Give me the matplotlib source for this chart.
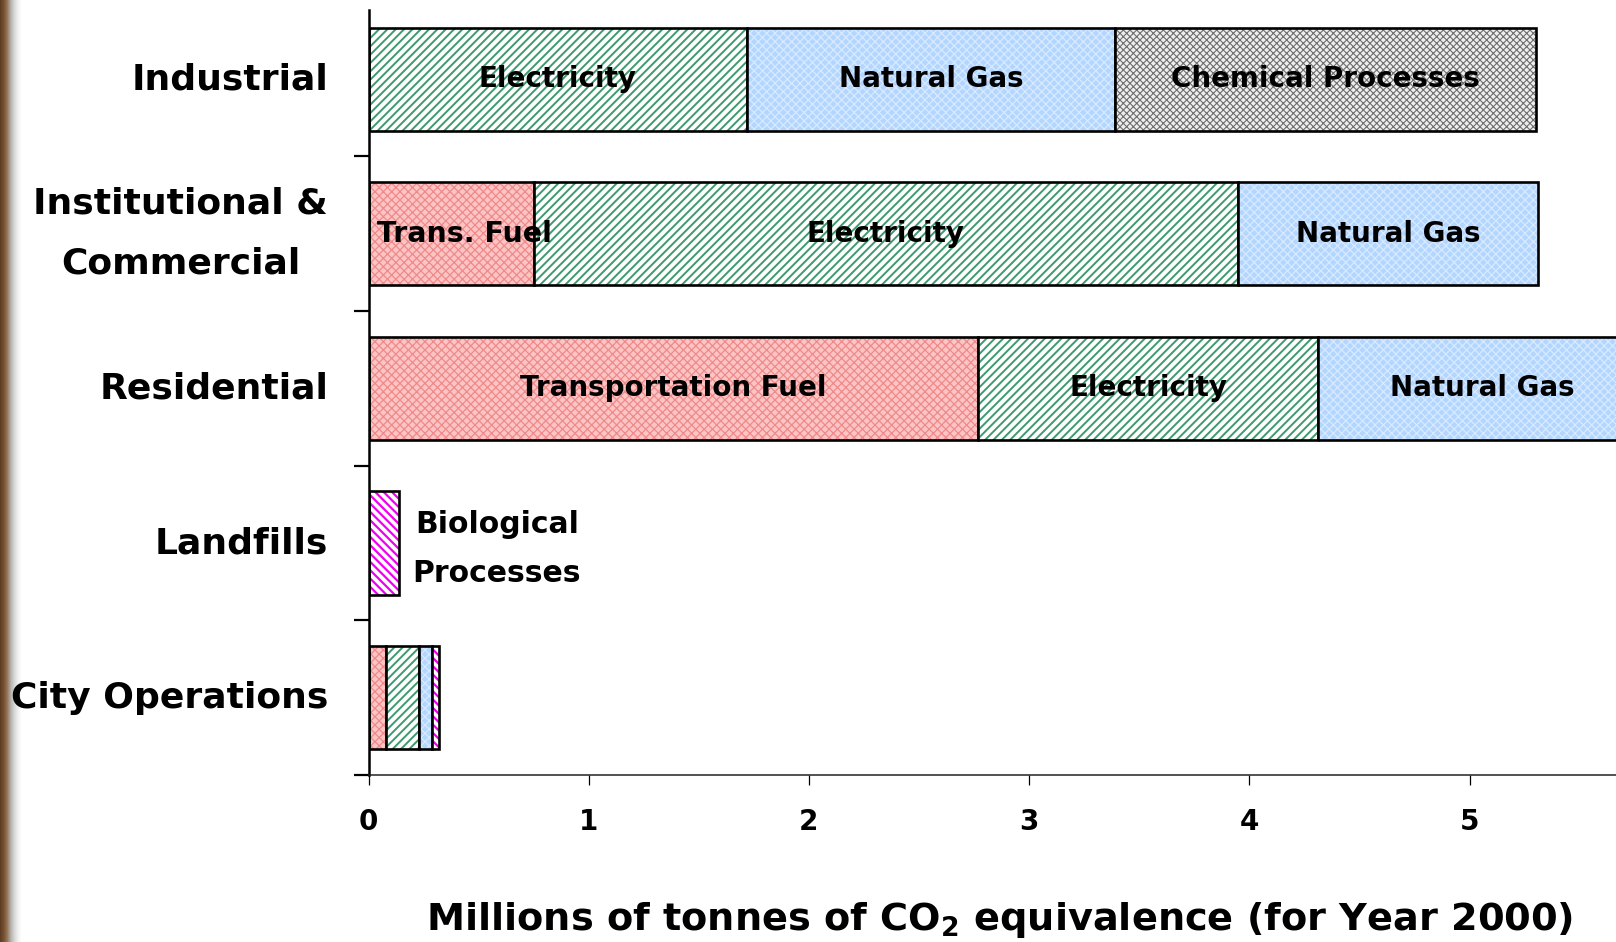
import numpy as np
import matplotlib

matplotlib.use("Agg")
import matplotlib.pyplot as plt

# categories from bottom to top
categories = ["City Operations", "Landfills", "Residential",
              "Institutional &\nCommercial", "Industrial"]

# millions of tonnes CO2e per source, same order as categories
transport_fuel = [0.08, 0.0, 2.77, 0.75, 0.0]
electricity = [0.15, 0.0, 1.54, 3.20, 1.72]
natural_gas = [0.06, 0.0, 1.50, 1.36, 1.67]
chemical = [0.0, 0.0, 0.0, 0.0, 1.91]
biological = [0.03, 0.14, 0.0, 0.0, 0.0]

sources = ["Transportation Fuel", "Electricity", "Natural Gas",
           "Chemical Processes", "Biological Processes"]

# in-bar labels: (category, source, text)
bar_labels = [
    ("Industrial", "Electricity", "Electricity"),
    ("Industrial", "Natural Gas", "Natural Gas"),
    ("Industrial", "Chemical Processes", "Chemical Processes"),
    ("Institutional &\nCommercial", "Electricity", "Electricity"),
    ("Institutional &\nCommercial", "Natural Gas", "Natural Gas"),
    ("Residential", "Transportation Fuel", "Transportation Fuel"),
    ("Residential", "Electricity", "Electricity"),
    ("Residential", "Natural Gas", "Natural Gas"),
]

x_ticks = [0, 1, 2, 3, 4, 5]
x_label = r"Millions of tonnes of CO$_\mathbf{2}$ equivalence (for Year 2000)"

# fill, hatch, hatch colour, hatch linewidth
styles = {
    "Transportation Fuel": ("#FCC4C4", "xxxx", "#EF8A8A", 0.9),
    "Electricity": ("white", "////", "#3E9A6E", 1.4),
    "Natural Gas": ("#B3D6FF", "xxxx", "#D8EAFF", 0.9),
    "Chemical Processes": ("#EEEEEE", "xxxxx", "#6E6E6E", 0.8),
    "Biological Processes": ("white", "\\\\\\\\", "#F000F0", 1.6),
}

plt.rcParams["font.family"] = "DejaVu Sans"
plt.rcParams["font.weight"] = "bold"

fig = plt.figure(figsize=(16.16, 9.42), dpi=100)
ax = fig.add_axes([368.5 / 1616, 167 / 942, 1 - 368.5 / 1616, 765 / 942])

series = [transport_fuel, electricity, natural_gas, chemical, biological]
y = np.arange(len(categories))
left = np.zeros(len(categories))
height = 0.667
spans = {}
for name, vals in zip(sources, series):
    vals = np.asarray(vals, dtype=float)
    face, hatch, hcol, hlw = styles[name]
    keep = vals > 0
    with plt.rc_context({"hatch.linewidth": hlw}):
        bars = ax.barh(y[keep], vals[keep], left=left[keep], height=height,
                       color=face, hatch=hatch, edgecolor=hcol, linewidth=0)
        for p in bars:
            if hasattr(p, "set_hatch_linewidth"):
                p.set_hatch_linewidth(hlw)
    ax.barh(y[keep], vals[keep], left=left[keep], height=height,
            fill=False, edgecolor="black", linewidth=1.9)
    for i in np.where(keep)[0]:
        spans[(categories[i], name)] = (left[i], left[i] + vals[i])
    left = left + vals

seg_font = dict(fontsize=20, fontweight="bold", color="black",
                ha="center", va="center")
for cat, src, txt in bar_labels:
    a, b = spans[(cat, src)]
    ax.text((a + b) / 2, categories.index(cat), txt, **seg_font)

inst = categories.index("Institutional &\nCommercial")
a, b = spans[("Institutional &\nCommercial", "Transportation Fuel")]
ax.text(a + 0.04, inst, "Trans. Fuel", fontsize=20.5, fontweight="bold",
        ha="left", va="center")

land = categories.index("Landfills")
a, b = spans[("Landfills", "Biological Processes")]
ax.text(b + 0.06, land - 0.04, "Biological\nProcesses", fontsize=21.5,
        fontweight="bold", ha="left", va="center", multialignment="center",
        linespacing=1.85)

ax.set_xlim(0, (1616 - 368.5) / 220.2)
ax.set_ylim(-0.5, 4.447)

ax.set_yticks(np.arange(len(categories)) - 0.5)
ax.set_yticklabels([])
ax.set_yticks(y, minor=True)
ax.set_yticklabels(categories, minor=True)
ax.tick_params(axis="y", which="major", length=11, width=1.6, direction="out")
ax.tick_params(axis="y", which="minor", length=0, pad=29, labelsize=26)
for lbl in ax.get_yticklabels(minor=True):
    lbl.set_fontweight("bold")
    lbl.set_multialignment("center")
    lbl.set_linespacing(1.95)
    lbl.set_verticalalignment("center")

ax.set_xticks(x_ticks)
ax.set_xticklabels([str(t) for t in x_ticks])
ax.tick_params(axis="x", length=7, width=0.9, direction="out", pad=17,
               labelsize=20)
for lbl in ax.get_xticklabels():
    lbl.set_fontweight("bold")
    lbl.set_family(["Liberation Sans Narrow", "DejaVu Sans"])

ax.spines["top"].set_visible(False)
ax.spines["right"].set_visible(False)
ax.spines["left"].set_linewidth(1.8)
ax.spines["bottom"].set_linewidth(1.1)
ax.spines["bottom"].set_color("#222222")

fig.text(970 / 1568, 1 - 893 / 914, x_label, fontsize=27.5, fontweight="bold",
         ha="center", va="center")

# brown slide edge on the left, kept behind the labels
edge = fig.add_axes([0, 0, 22 / 1616, 1], zorder=-1)
stops = np.array([[95, 62, 35], [120, 82, 50], [150, 120, 95],
                  [185, 180, 175], [215, 215, 215], [240, 240, 240],
                  [255, 255, 255]]) / 255.0
grad = np.array([np.interp(np.linspace(0, 1, 22), np.linspace(0, 1, len(stops)),
                           stops[:, k]) for k in range(3)]).T
edge.imshow(grad[np.newaxis, :, :], aspect="auto", extent=(0, 1, 0, 1))
edge.set_axis_off()

fig.savefig("out.png", dpi=100)
